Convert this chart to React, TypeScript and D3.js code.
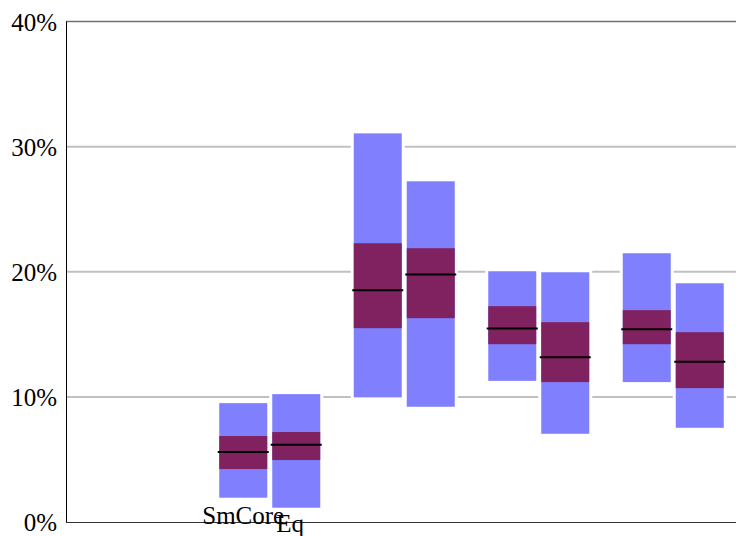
import React from "react";
import * as d3 from "d3";

const categories = ["G0", "G1", "G2", "G3", "G4"];
const seriesNames = ["SmCore", "Eq"];
// [low, q1, median, q3, high] in percent, per category, per series
const seriesA: (number[] | null)[] = [
  null,
  [1.94, 4.23, 5.59, 6.87, 9.5],
  [9.96, 15.49, 18.52, 22.28, 31.06],
  [11.28, 14.21, 15.46, 17.25, 20.04],
  [11.18, 14.21, 15.41, 16.93, 21.48],
];
const seriesB: (number[] | null)[] = [
  null,
  [1.14, 4.95, 6.17, 7.19, 10.22],
  [9.21, 16.29, 19.78, 21.88, 27.23],
  [7.05, 11.18, 13.17, 15.97, 19.96],
  [7.53, 10.7, 12.8, 15.17, 19.08],
];
const yTicks = [0, 10, 20, 30, 40];

const W = 736;
const H = 536;
const left = 66;
const top = 21.5;
const bottom = 522;
const FONT = "'Liberation Serif', 'Times New Roman', serif";

export default function App() {
  const y = d3.scaleLinear().domain([0, 40]).range([bottom, top]);
  const x = d3.scaleBand<string>().domain(categories).range([68, 740.5]);
  const sub = d3
    .scaleBand<string>()
    .domain(seriesNames)
    .range([0, 101])
    .paddingInner(0.0943);
  const series = [seriesA, seriesB];
  const groupStart = (c: string) => (x(c) as number) + x.bandwidth() / 2 - 50.5;

  const bars: { key: string; x: number; v: number[] }[] = [];
  categories.forEach((c, ci) => {
    series.forEach((s, si) => {
      const v = s[ci];
      if (!v) return;
      bars.push({ key: c + si, x: groupStart(c) + (sub(seriesNames[si]) as number), v });
    });
  });
  const bw = sub.bandwidth();
  const labelCat = categories[1];
  const textStyle = { fontFamily: FONT, fontSize: "25px" };

  return (
    <svg width={W} height={H} style={{ position: "absolute", left: 0, top: 0 }}>
      <rect x={0} y={0} width={W} height={H} fill="#fff" />
      {yTicks
        .filter((t) => t > 0 && t < 40)
        .map((t) => (
          <line key={t} x1={left} x2={W} y1={y(t)} y2={y(t)} stroke="#c0c0c0" strokeWidth={2} />
        ))}
      <line x1={left} x2={W} y1={top} y2={top} stroke="#707070" strokeWidth={1.5} />
      {bars.map((b) => (
        <rect
          key={"pad" + b.key}
          x={b.x - 3}
          y={y(b.v[4]) - 3}
          width={bw + 6}
          height={y(b.v[0]) - y(b.v[4]) + 6}
          fill="#fff"
        />
      ))}
      {bars.map((b) => (
        <g key={b.key}>
          <rect x={b.x} y={y(b.v[4])} width={bw} height={y(b.v[0]) - y(b.v[4])} fill="#8080ff" />
          <rect x={b.x} y={y(b.v[3])} width={bw} height={y(b.v[1]) - y(b.v[3])} fill="#80225f" />
          <line x1={b.x - 1.5} x2={b.x + bw + 1.5} y1={y(b.v[2])} y2={y(b.v[2])} stroke="#000" strokeWidth={2} />
        </g>
      ))}
      <line x1={left + 0.5} x2={left + 0.5} y1={top} y2={bottom} stroke="#000" strokeWidth={1} />
      <line x1={left} x2={W} y1={bottom + 0.5} y2={bottom + 0.5} stroke="#333" strokeWidth={1} />
      {yTicks.map((t) => (
        <text key={t} x={57} y={y(t)} dy="0.36em" textAnchor="end" style={textStyle} fill="#000">
          {t}%
        </text>
      ))}
      <text
        x={groupStart(labelCat) + (sub(seriesNames[0]) as number) + bw / 2}
        y={524}
        textAnchor="middle"
        style={textStyle}
        fill="#000"
      >
        {seriesNames[0]}
      </text>
      <text
        x={groupStart(labelCat) + (sub(seriesNames[1]) as number) + bw / 2 - 6}
        y={532}
        textAnchor="middle"
        style={textStyle}
        fill="#000"
      >
        {seriesNames[1]}
      </text>
    </svg>
  );
}
